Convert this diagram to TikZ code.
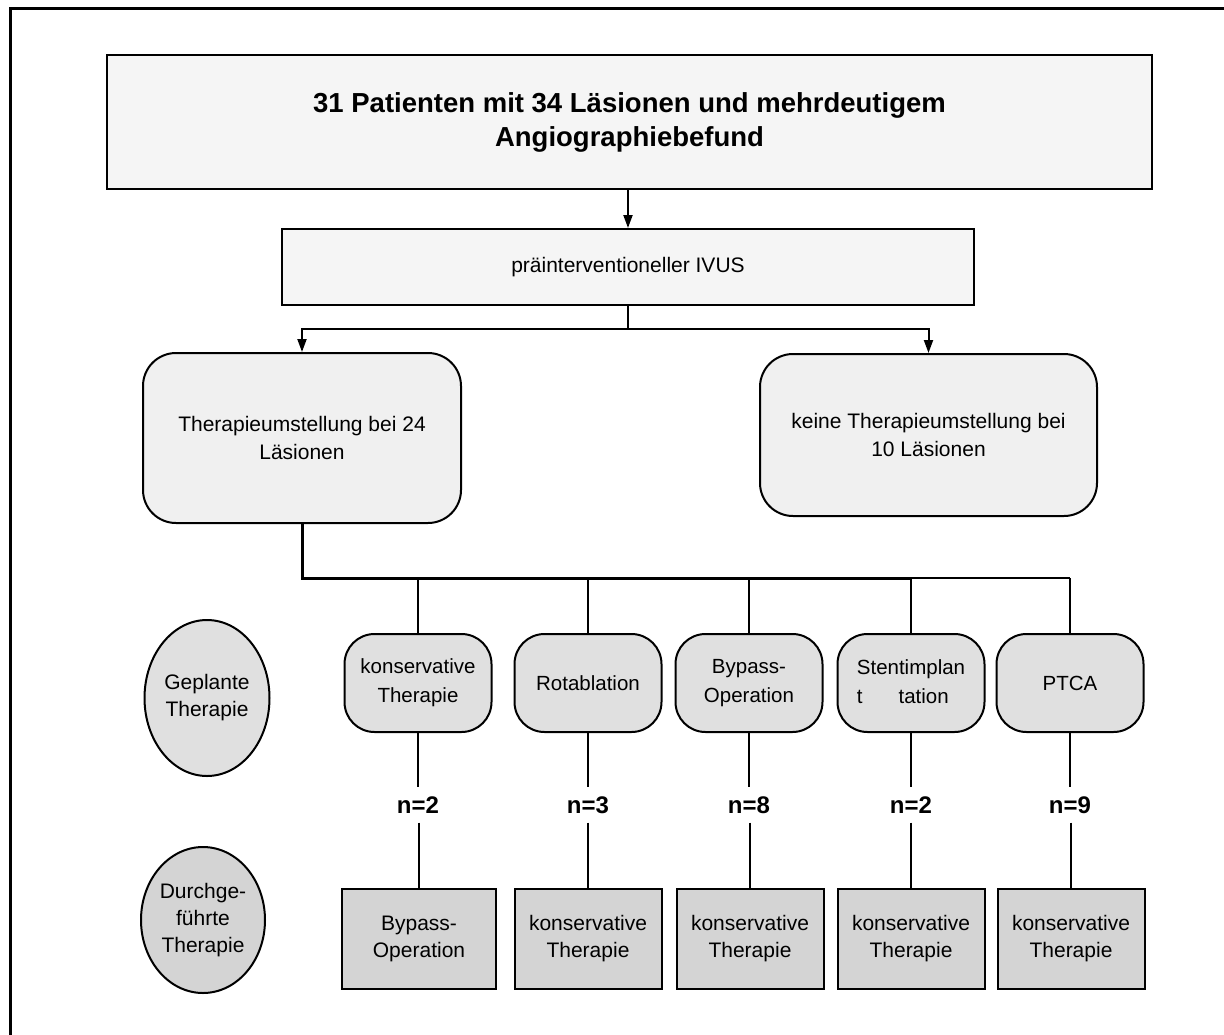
\documentclass[tikz,border=0pt]{standalone}
\usepackage{fontspec}
\setmainfont{Liberation Sans}
\usetikzlibrary{arrows.meta,shapes.geometric}

\definecolor{boxlight}{HTML}{F5F5F5}
\definecolor{boxmid}{HTML}{F0F0F0}
\definecolor{boxgray}{HTML}{E0E0E0}
\definecolor{boxdark}{HTML}{D4D4D4}

\tikzset{
  frame/.style={line width=3pt},
  headbox/.style={draw, line width=2pt, fill=boxlight, align=center, inner sep=0pt},
  biground/.style={draw, line width=2pt, fill=boxmid, rounded corners=33pt, align=center,
    inner sep=0pt, font=\fontsize{21}{28}\selectfont},
  planbox/.style={draw, line width=2pt, fill=boxgray, rounded corners=30pt, align=center,
    inner sep=0pt, minimum width=147pt, minimum height=98pt, font=\fontsize{20.5}{29}\selectfont},
  donebox/.style={draw, line width=2pt, fill=boxdark, align=center, inner sep=0pt,
    minimum width=147pt, minimum height=100pt, font=\fontsize{21}{27}\selectfont},
  rowlabel/.style={draw, line width=2pt, ellipse, inner sep=0pt, align=center,
    font=\fontsize{21}{27}\selectfont},
  count/.style={font=\fontsize{24}{28}\selectfont\bfseries, inner sep=0pt,
    minimum height=35pt},
  arr/.style={line width=2pt, -{Triangle[length=13pt,width=9pt]}},
  link/.style={line width=1.6pt},
  buswide/.style={line width=3pt},
}

\begin{document}
\begin{tikzpicture}[x=1pt, y=-1pt]
  \useasboundingbox (0,0) rectangle (1224,1034);
  \clip (0,0) rectangle (1224,1034);

  % outer frame, running off the page on the right and at the bottom
  \draw[frame] (10,1060) -- (10,8) -- (1250,8);

  % header boxes
  \node[headbox, minimum width=1045pt, minimum height=134pt,
        font=\fontsize{27.5}{34}\selectfont\bfseries] (title) at (629.5,122)
    {31 Patienten mit 34 Läsionen und mehrdeutigem\\Angiographiebefund};
  \node[headbox, minimum width=692pt, minimum height=76pt,
        font=\fontsize{21}{28}\selectfont] (ivus) at (628,267)
    {präinterventioneller IVUS};

  % outcome of the IVUS examination
  \node[biground, minimum width=318pt, minimum height=170pt] (change) at (302,438)
    {Therapieumstellung bei 24\\Läsionen};
  \node[biground, minimum width=337pt, minimum height=162pt] (keep) at (928.5,435)
    {keine Therapieumstellung bei\\10 Läsionen};

  % row labels
  \node[rowlabel, fill=boxgray, minimum width=125pt, minimum height=156pt] (planned) at (207,698)
    {Geplante\\Therapie};
  \node[rowlabel, fill=boxdark, minimum width=124pt, minimum height=146pt] (done) at (203,920)
    {Durchge-\\führte\\Therapie};

  % planned therapies
  \node[planbox] (p1) at (418,683) {konservative\\Therapie};
  \node[planbox] (p2) at (588,683) {Rotablation};
  \node[planbox] (p3) at (749,683) {Bypass-\\Operation};
  \node[planbox] (p4) at (911,683)
    {\begin{tabular}{@{}l@{}}Stentimplan\\t\hspace{36pt}tation\end{tabular}};
  \node[planbox] (p5) at (1070,683) {PTCA};

  % numbers of lesions
  \node[count] (n1) at (418,805) {n=2};
  \node[count] (n2) at (588,805) {n=3};
  \node[count] (n3) at (749,805) {n=8};
  \node[count] (n4) at (911,805) {n=2};
  \node[count] (n5) at (1070,805) {n=9};

  % therapies actually performed
  \node[donebox, minimum width=154pt] (d1) at (419,938.5) {Bypass-\\Operation};
  \node[donebox] (d2) at (588,938.5) {konservative\\Therapie};
  \node[donebox] (d3) at (750,938.5) {konservative\\Therapie};
  \node[donebox] (d4) at (911,938.5) {konservative\\Therapie};
  \node[donebox] (d5) at (1071,938.5) {konservative\\Therapie};

  % arrows below the header
  \draw[arr] (title.south -| ivus.north) -- (ivus.north);
  \draw[line width=2pt] (ivus.south) -- ++(0,23) coordinate (split);
  \draw[arr] (split) -| (change.north);
  \draw[arr] (split) -| (keep.north);

  % distribution bus to the planned therapies
  \coordinate (bus) at (0,578);
  \draw[buswide] (change.south) -- (change.south |- bus) -- (p4.north |- bus);
  \draw[line width=2pt] (p4.north |- bus) -- (p5.north |- bus);
  \foreach \i in {1,...,5} {
    \draw[link] (p\i.north |- bus) -- (p\i.north);
    \draw[link] (p\i.south) -- (n\i.north);
    \draw[link] (n\i.south -| d\i.north) -- (d\i.north);
  }
\end{tikzpicture}
\end{document}
